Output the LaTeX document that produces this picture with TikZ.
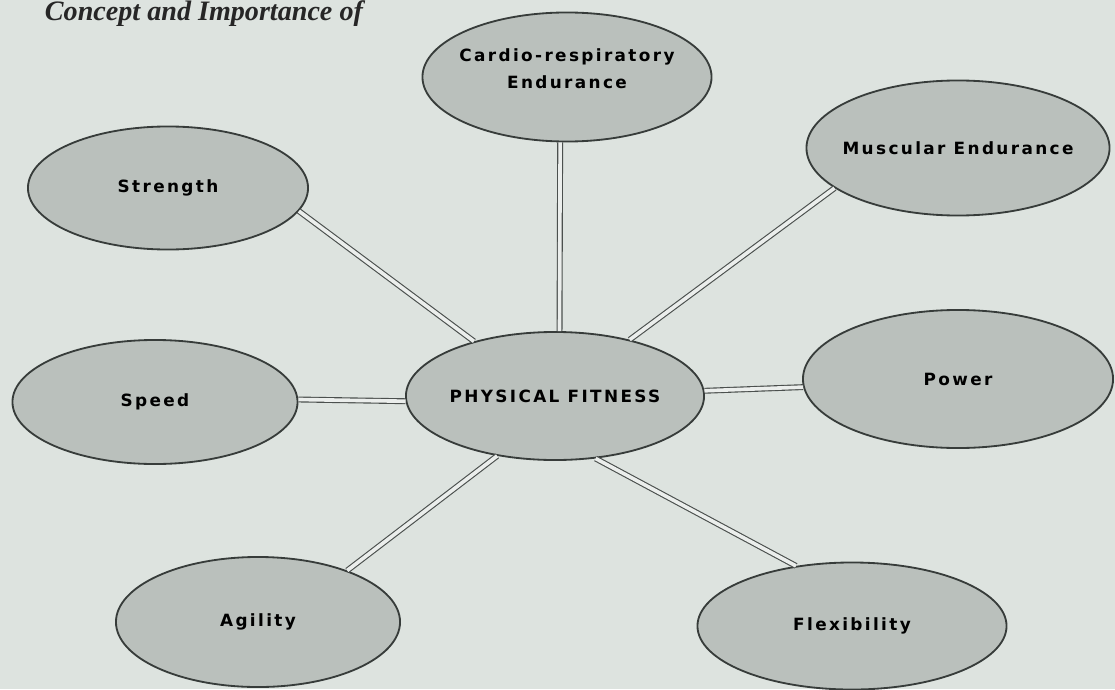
\documentclass[tikz,border=0pt]{standalone}
\usepackage{fontspec}
\setmainfont{Liberation Serif}
\newfontfamily\lblfont[LetterSpace=14]{DejaVu Sans}
\usetikzlibrary{shapes.geometric}
\definecolor{pagebg}{RGB}{221,227,223}
\definecolor{ovalfill}{RGB}{186,192,188}
\definecolor{inkgray}{RGB}{55,60,58}
\tikzset{
  oval/.style={ellipse,draw=inkgray,line width=1.3pt,fill=ovalfill,inner sep=0pt,align=center,
    font=\lblfont\bfseries\fontsize{12}{19}\selectfont},
  link/.style={draw=inkgray!90,line width=.8pt,double=pagebg!60!white,double distance=2.6pt},
  heading/.style={anchor=base west,font=\bfseries\itshape\fontsize{20}{24}\selectfont,text=black!85}
}
\begin{document}
\begin{tikzpicture}[x=0.025cm,y=-0.025cm]
  \fill[pagebg] (0,0) rectangle (1115,689);
  \useasboundingbox (0,0) rectangle (1115,689);
  \node[heading] (head) at (40,21) {Concept and Importance of};

  \node[oval,minimum width=7.2cm,minimum height=3.2cm] (fit) at (555,396) {PHYSICAL FITNESS};
  \node[oval,inner xsep=-4.5pt,minimum width=7.225cm,minimum height=3.225cm] (cardio) at (567,77) {Cardio-respiratory\\Endurance\rule[-12pt]{0pt}{0pt}};
  \node[oval,inner xsep=-6.5pt,minimum width=7.575cm,minimum height=3.375cm] (muscle) at (958,148) {Muscular Endurance};
  \node[oval,minimum width=7.0cm,minimum height=3.075cm] (strength) at (168,188) {Strength};
  \node[oval,minimum width=7.125cm,minimum height=3.1cm] (speed) at (155,402) {Speed};
  \node[oval,minimum width=7.75cm,minimum height=3.45cm] (power) at (958,379) {Power};
  \node[oval,minimum width=7.1cm,minimum height=3.25cm] (agility) at (258,622) {Agility};
  \node[oval,minimum width=7.725cm,minimum height=3.175cm] (flex) at (852,626) {Flexibility};

  % spokes: hub angle / outer node / outer angle
  \foreach \a/\n/\b in {86/cardio/-96,37/muscle/-162,146/strength/-10,182/speed/1,
                        2/power/183,226/agility/30,-57/flex/133}
    \draw[link] (fit.\a) -- (\n.\b);
\end{tikzpicture}
\end{document}
